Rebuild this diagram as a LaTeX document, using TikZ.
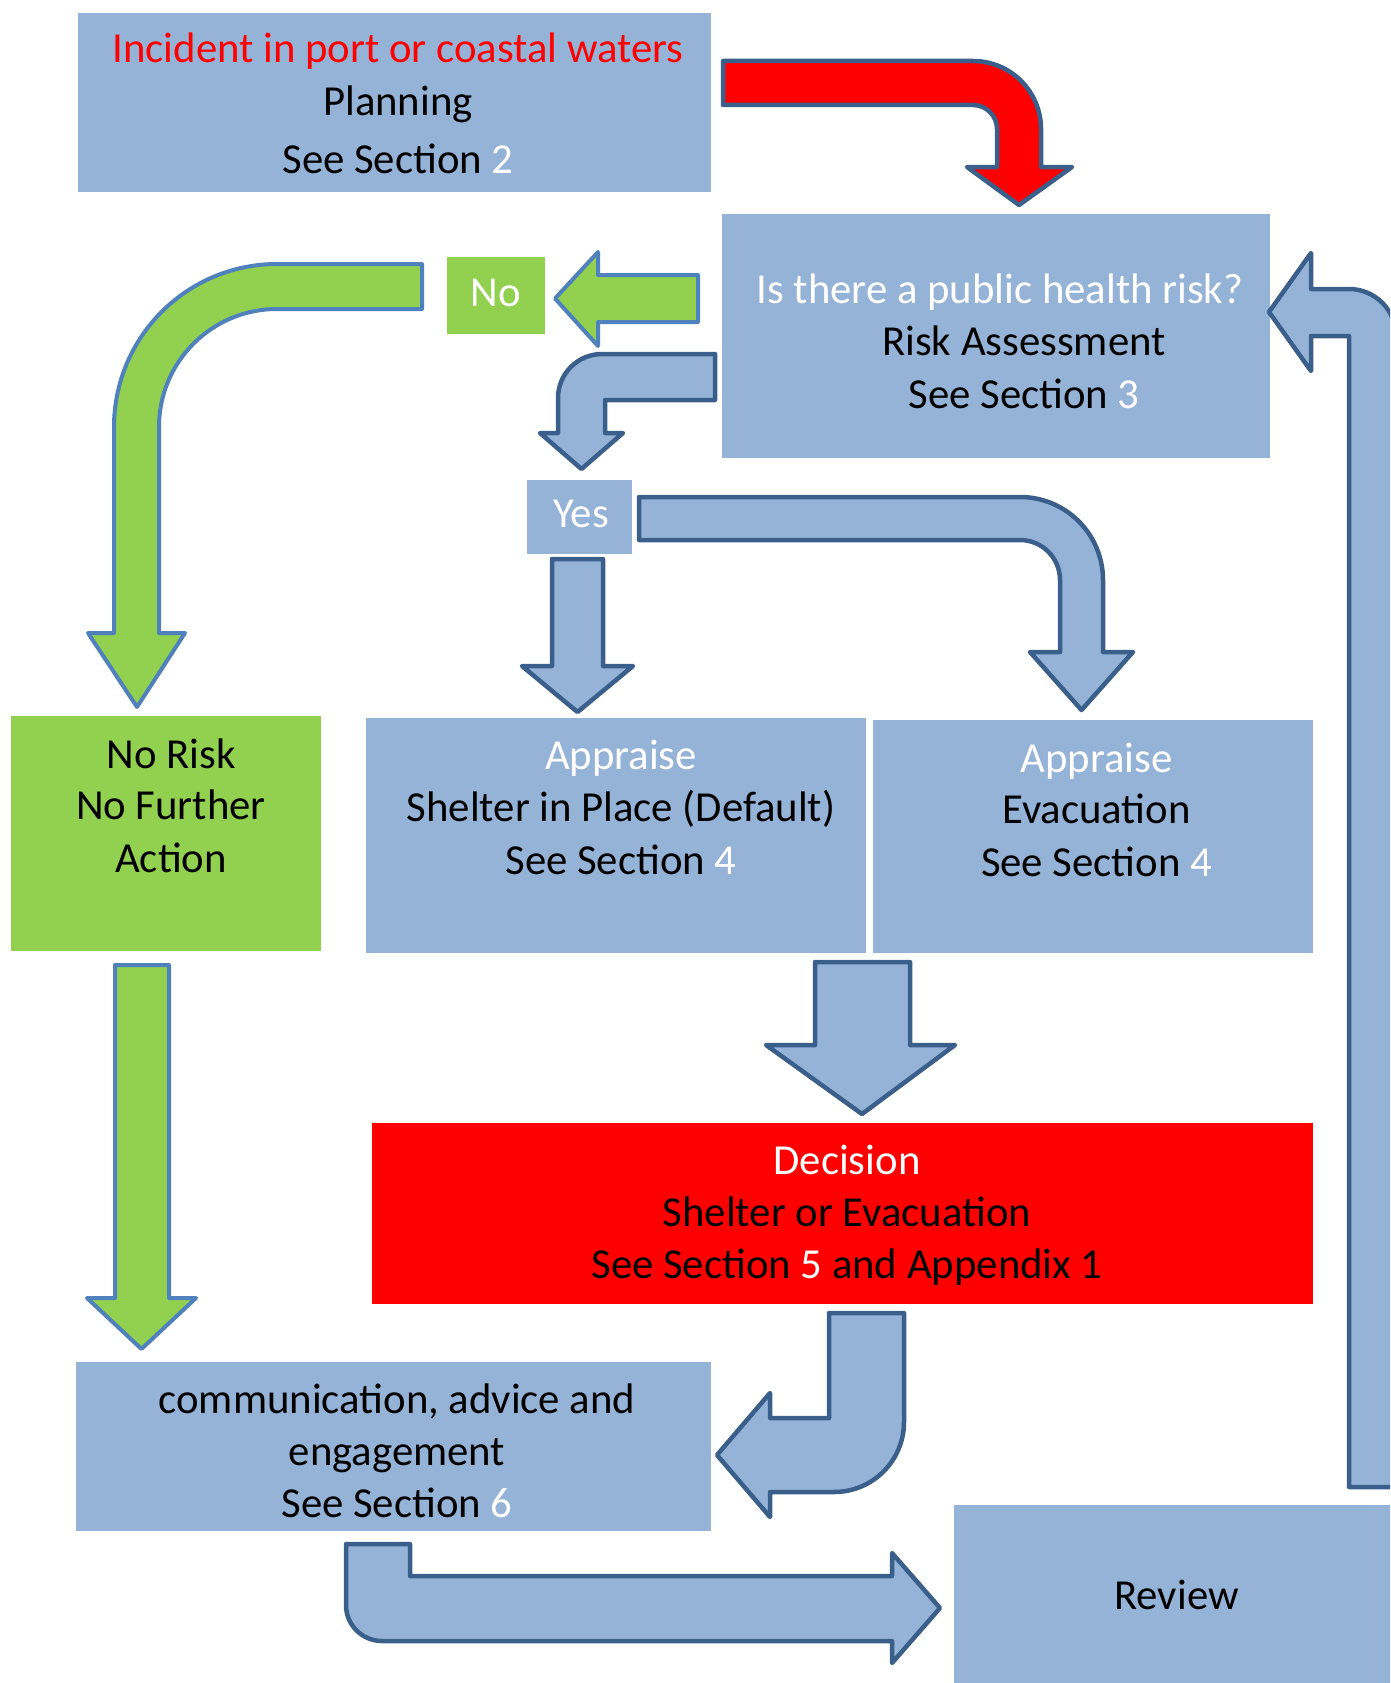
\documentclass[tikz,border=0pt]{standalone}
\usepackage{fontspec}
\setmainfont{Carlito}
\definecolor{boxblue}{HTML}{95B3D7}
\definecolor{edgeblue}{HTML}{3A5F8B}
\definecolor{edgelight}{HTML}{4F81BD}
\definecolor{boxgreen}{HTML}{92D050}
\definecolor{boxred}{HTML}{FF0000}
\begin{document}
\begin{tikzpicture}[x=1pt,y=-1pt,
  bluebox/.style={rectangle,fill=boxblue,draw=none,inner sep=0pt,outer sep=0pt},
  greenbox/.style={rectangle,fill=boxgreen,draw=none,inner sep=0pt,outer sep=0pt},
  redbox/.style={rectangle,fill=boxred,draw=none,inner sep=0pt,outer sep=0pt},
  txt/.style={anchor=base,inner sep=0pt,yshift=-2pt,font=\fontsize{42.75}{52}\selectfont},
  darrow/.style={fill=boxblue,draw=edgeblue,line width=4.5pt,line join=round},
  garrow/.style={fill=boxgreen,draw=edgelight,line width=4pt,line join=round},
  rarrow/.style={fill=boxred,draw=edgeblue,line width=4.5pt,line join=round}]
\useasboundingbox (0,0) rectangle (1390,1683);
\clip (0,0) rectangle (1390,1683);

% boxes
\node[bluebox,minimum width=633pt,minimum height=179pt] (top) at (394.5,102.5) {};
\node[bluebox,minimum width=548pt,minimum height=244pt] (q) at (996,336) {};
\node[greenbox,minimum width=98pt,minimum height=77pt] (no) at (496,295.5) {};
\node[bluebox,minimum width=105pt,minimum height=74pt] (yes) at (579.5,517) {};
\node[bluebox,minimum width=500pt,minimum height=235pt] (shelter) at (616,835.5) {};
\node[bluebox,minimum width=440pt,minimum height=233pt] (evac) at (1093,836.5) {};
\node[greenbox,minimum width=310pt,minimum height=235pt] (norisk) at (166,833.5) {};
\node[redbox,minimum width=941pt,minimum height=181pt] (decision) at (842.5,1213.5) {};
\node[bluebox,minimum width=635pt,minimum height=169pt] (comm) at (393.5,1446.5) {};
\node[bluebox,minimum width=446pt,minimum height=185pt] (review) at (1177,1597.5) {};

% texts
\node[txt,text=boxred] (t1) at (398,61) {Incident in port or coastal waters};
\node[txt] (t2) at (398,114) {Planning};
\node[txt] (t3) at (398,171) {See Section \textcolor{white}{2}};

\node[txt,text=white] (q1) at (1000,301) {Is there a public health risk?};
\node[txt] (q2) at (1024,353) {Risk Assessment};
\node[txt] (q3) at (1024,406) {See Section \textcolor{white}{3}};

\node[txt,text=white] (nol) at (496,304) {No};
\node[txt,text=white] (yesl) at (581,525) {Yes};

\node[txt,text=white] (s1) at (621,767) {Appraise};
\node[txt] (s2) at (621,819) {Shelter in Place (Default)};
\node[txt] (s3) at (621,872) {See Section \textcolor{white}{4}};

\node[txt,text=white] (e1) at (1096.5,770) {Appraise};
\node[txt] (e2) at (1096.5,821) {Evacuation};
\node[txt] (e3) at (1096.5,874) {See Section \textcolor{white}{4}};

\node[txt] (n1) at (171,766) {No Risk};
\node[txt] (n2) at (171,817) {No Further};
\node[txt] (n3) at (171,870) {Action};

\node[txt,text=white] (d1) at (847,1172) {Decision};
\node[txt] (d2) at (847,1224) {Shelter or Evacuation};
\node[txt] (d3) at (847,1276) {See Section \textcolor{white}{5} and Appendix 1};

\node[txt] (c1) at (397,1411) {communication, advice and};
\node[txt] (c2) at (397,1463) {engagement};
\node[txt] (c3) at (397,1515) {See Section \textcolor{white}{6}};

\node[txt] (r1) at (1176.5,1607) {Review};

% block arrows
% top -> question (red, bent)
\draw[rarrow] (723,61) -- (973,61) arc[start angle=-90,end angle=0,radius=68]
  -- (1041,167) -- (1072,167) -- (1019,205) -- (967,167) -- (997,167) -- (997,129)
  arc[start angle=0,end angle=-90,radius=24] -- (723,105) -- cycle;

% question -> No (green, left)
\draw[garrow] (698,275) -- (598,275) -- (598,252) -- (555,298.5) -- (598,346) -- (598,322) -- (698,322) -- cycle;

% No -> No Risk (green, bent)
\draw[garrow] (422,264) -- (277,264) arc[start angle=-90,end angle=-180,radius=163]
  -- (114,633) -- (88,633) -- (137,707) -- (185,633) -- (159,633) -- (159,427)
  arc[start angle=180,end angle=270,radius=118] -- (422,309) -- cycle;

% question -> Yes (blue, bent)
\draw[darrow] (715,354) -- (602,354) arc[start angle=-90,end angle=-180,radius=44]
  -- (558,433) -- (540,433) -- (581.5,469) -- (623,433) -- (605,433) -- (605,400) -- (715,400) -- cycle;

% Yes -> Shelter (blue, down)
\draw[darrow] (552,559) -- (603,559) -- (603,666) -- (633,666) -- (577.5,712) -- (522,666) -- (552,666) -- cycle;

% Yes -> Evacuation (blue, bent)
\draw[darrow] (639,497) -- (1020,497) arc[start angle=-90,end angle=0,radius=83]
  -- (1103,652) -- (1133,652) -- (1081.5,710) -- (1030,652) -- (1060,652) -- (1060,580)
  arc[start angle=0,end angle=-90,radius=40] -- (639,540) -- cycle;

% Shelter/Evac -> Decision (big blue, down)
\draw[darrow] (815,962) -- (910,962) -- (910,1045) -- (955,1045) -- (862,1114) -- (766,1045) -- (815,1045) -- cycle;

% No Risk -> communication (green, down)
\draw[garrow] (115,965) -- (169,965) -- (169,1298) -- (196,1298) -- (141.5,1349) -- (87,1298) -- (115,1298) -- cycle;

% Decision -> communication (blue, bent)
\draw[darrow] (829,1313) -- (904,1313) -- (904,1422) arc[start angle=0,end angle=90,radius=70]
  -- (770,1492) -- (770,1517) -- (717,1455) -- (770,1393) -- (770,1418) -- (829,1418) -- cycle;

% communication -> Review (blue, bent)
\draw[darrow] (346,1544) -- (410,1544) -- (410,1576) -- (892,1576) -- (892,1553) -- (940,1608)
  -- (892,1663) -- (892,1641) -- (382,1641) arc[start angle=90,end angle=180,radius=36] -- cycle;

% Review -> question (blue, bent up, clipped at right)
\draw[darrow] (1349,1487) -- (1349,336) -- (1311,336) -- (1311,371) -- (1269,312) -- (1311,253)
  -- (1311,289) -- (1349,289) arc[start angle=-90,end angle=0,radius=47] -- (1396,1487) -- cycle;
\end{tikzpicture}
\end{document}
